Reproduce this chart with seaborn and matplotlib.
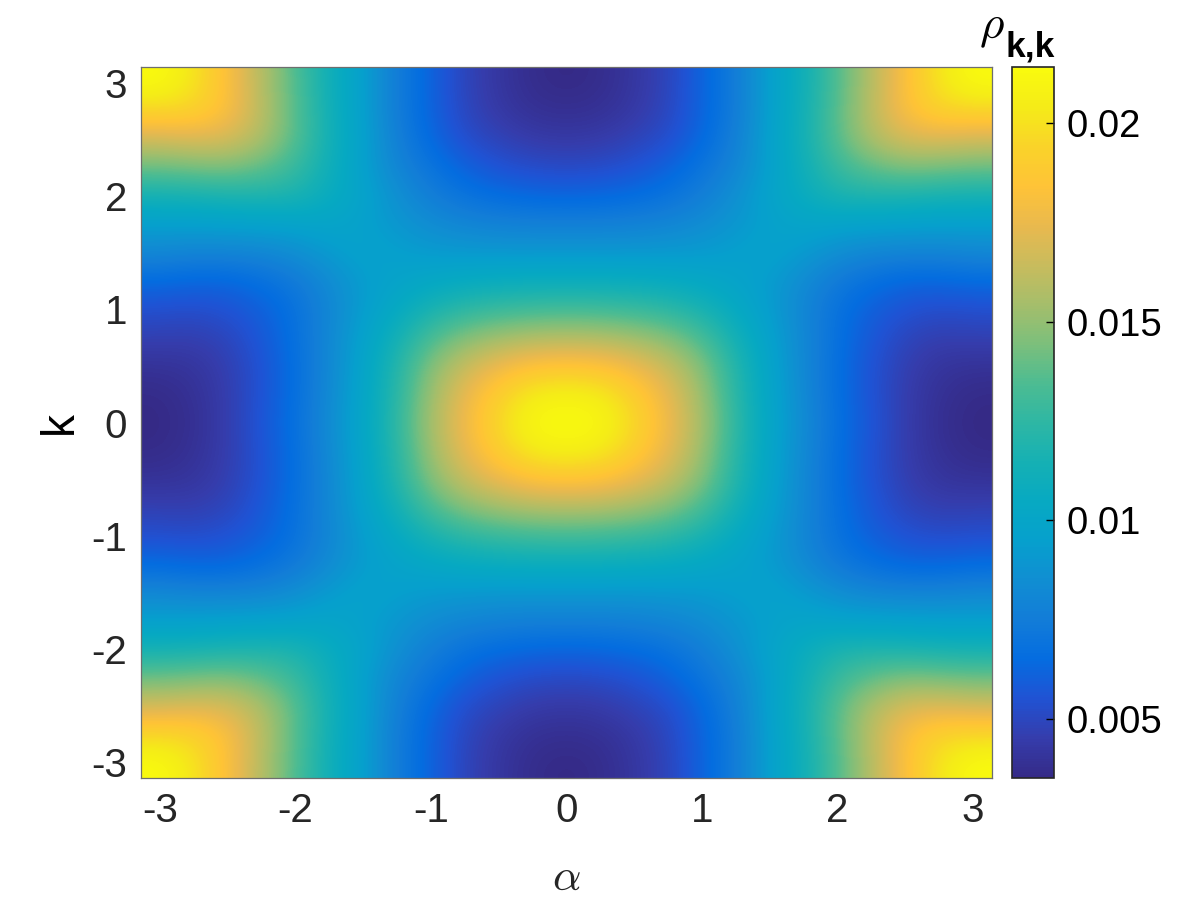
import numpy as np
import seaborn as sns
import matplotlib.pyplot as plt
from matplotlib.colors import LinearSegmentedColormap

# rho, units of 1e-4, one quadrant (alpha >= 0, k >= 0), rows go up in k
rho_k00 = [214, 212, 197, 177, 155, 124, 100, 83, 67, 56, 45, 38, 35]
rho_k01 = [208, 205, 191, 174, 152, 122, 99, 82, 66, 55, 45, 39, 36]
rho_k02 = [186, 184, 176, 164, 146, 120, 98, 81, 66, 55, 46, 41, 40]
rho_k03 = [158, 157, 153, 146, 133, 113, 96, 81, 67, 57, 49, 46, 47]
rho_k04 = [131, 130, 128, 124, 116, 104, 93, 80, 68, 60, 55, 53, 54]
rho_k05 = [108, 108, 107, 105, 102, 98, 93, 83, 73, 67, 63, 63, 65]
rho_k06 = [90, 90, 90, 91, 92, 95, 98, 92, 85, 81, 80, 80, 82]
rho_k07 = [77, 77, 78, 80, 84, 90, 96, 100, 98, 97, 96, 95, 95]
rho_k08 = [62, 63, 65, 69, 76, 86, 99, 108, 118, 119, 118, 116, 115]
rho_k09 = [51, 52, 55, 61, 70, 80, 96, 112, 129, 140, 146, 144, 142]
rho_k10 = [43, 44, 48, 53, 64, 77, 97, 114, 138, 158, 170, 171, 168]
rho_k11 = [38, 39, 43, 50, 62, 75, 96, 113, 138, 162, 183, 195, 197]
rho_k12 = [35, 37, 42, 49, 62, 75, 96, 112, 136, 160, 183, 203, 214]

xticks = [-3, -2, -1, 0, 1, 2, 3]
yticks = [3, 2, 1, 0, -1, -2, -3]
cbar_ticks = [0.005, 0.01, 0.015, 0.02]
cbar_labels = ['0.005', '0.01', '0.015', '0.02']

parula = [(0.2081, 0.1663, 0.5292), (0.2081, 0.2386, 0.6771), (0.1253, 0.3242, 0.8303),
          (0.0165, 0.4266, 0.8786), (0.0723, 0.4887, 0.8467), (0.0641, 0.5570, 0.8240),
          (0.0239, 0.6287, 0.8038), (0.0267, 0.6642, 0.7607), (0.0843, 0.6928, 0.7062),
          (0.1801, 0.7177, 0.6424), (0.3022, 0.7376, 0.5712), (0.4871, 0.7491, 0.4840),
          (0.6473, 0.7456, 0.4188), (0.7858, 0.7356, 0.3633), (0.9139, 0.7258, 0.3063),
          (0.9990, 0.7653, 0.2164), (0.9789, 0.8271, 0.1633), (0.9598, 0.9218, 0.0948),
          (0.9763, 0.9831, 0.0538)]
cmap = LinearSegmentedColormap.from_list('parula', parula)

quadrant = np.array([rho_k00, rho_k01, rho_k02, rho_k03, rho_k04, rho_k05, rho_k06,
                     rho_k07, rho_k08, rho_k09, rho_k10, rho_k11, rho_k12]) * 1e-4
# picture is mirror symmetric in alpha and in k
half = np.hstack([quadrant[:, :0:-1], quadrant])
grid = np.vstack([half[:0:-1], half])
n = grid.shape[0]

plt.rcParams['font.family'] = ['Liberation Sans', 'DejaVu Sans']
plt.rcParams['mathtext.fontset'] = 'cm'

W, H = 1199, 899
fig = plt.figure(figsize=(W / 100, H / 100), dpi=100)
ax = fig.add_axes([141 / W, 1 - 778 / H, 851 / W, 711 / H])
cax = fig.add_axes([1012 / W, 1 - 778 / H, 42 / W, 711 / H])

vmin, vmax = 0.00352, 0.02141
sns.heatmap(grid, ax=ax, cbar_ax=cax, cmap=cmap, vmin=vmin, vmax=vmax,
            xticklabels=False, yticklabels=False, rasterized=True)
# smooth display of the same cells, the original grid is much finer
ax.imshow(grid, extent=(0, n, n, 0), cmap=cmap, vmin=vmin, vmax=vmax,
          interpolation='bicubic', aspect='auto', zorder=2)
ax.set_xlim(0, n)
ax.set_ylim(n, 0)

ax.set_xticks([(v + np.pi) / (2 * np.pi) * n for v in xticks])
ax.set_xticklabels([str(v) for v in xticks], fontsize=29, color='#262626')
ax.set_yticks([(np.pi - v) / (2 * np.pi) * n for v in yticks])
ax.set_yticklabels([str(v) for v in yticks], fontsize=29, color='#262626')
ax.tick_params(length=0, pad=10)
for s in ax.spines.values():
    s.set_visible(True)
    s.set_color('#6e6e6e')
    s.set_linewidth(0.9)
    s.set_zorder(3)

ax.set_xlabel(r'$\alpha$', fontsize=32, color='#262626', labelpad=20)
ax.set_ylabel('k', fontsize=33, color='black', labelpad=7)

cbar = ax.collections[0].colorbar
cbar.set_ticks(cbar_ticks)
cbar.set_ticklabels(cbar_labels)
cbar.ax.tick_params(direction='in', length=6, width=1, right=True, labelsize=27.5,
                    pad=9, labelcolor='black')
cbar.outline.set_visible(True)
cbar.outline.set_edgecolor('#262626')
cbar.outline.set_linewidth(1.2)

fig.text(979 / W, 1 - 38 / H, r'$\rho$', fontsize=34, color='black', ha='left', va='baseline')
fig.text(1006 / W, 1 - 57 / H, 'k,k', fontsize=25.5, fontweight='bold', color='black',
         ha='left', va='baseline')

fig.savefig('out.png', dpi=100)
